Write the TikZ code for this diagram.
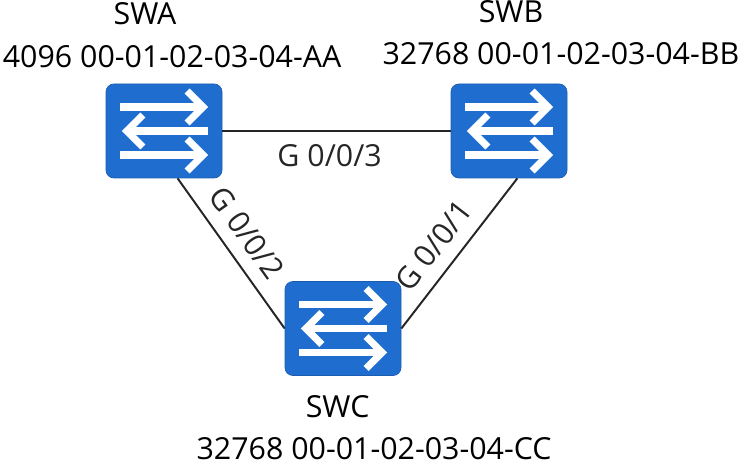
\documentclass[tikz,border=0pt]{standalone}
\usepackage{fontspec}
\setmainfont{Open Sans}
\usepackage{tikz}
\definecolor{switchblue}{HTML}{1F6ECF}
\usetikzlibrary{positioning, calc}
\tikzstyle{link} = [line width=1.4pt, black!85]

\begin{document}
\begin{tikzpicture}
                    \tikzstyle{every node}=[font=\fontsize{21.6}{25}\selectfont] \tikzstyle{switch} =
                    [rectangle, rounded corners=0.2cm, fill=switchblue, draw=switchblue!85!black,
                    line width=0.5pt, minimum width=2.9cm, minimum height=2.35cm, inner sep=0pt]
                    \tikzstyle{port} = [sloped, inner sep=9pt] \tikzstyle{flow} =
                    [white, line width=5pt, line join=miter]

                    \useasboundingbox (0,0) rectangle (18.5,11.625);

                    % switches
                    \node[switch](swa) at (4.1,8.35) {};
                    \node[switch](swb) at (12.725,8.35) {};
                    \node[switch](swc) at (8.575,3.4125) {};

                    \foreach \sw in {swa,swb,swc} {
                        \draw[flow] ($(\sw)+(-1.1,0.6)$) -- ($(\sw)+(0.98,0.6)$);
                        \draw[flow] ($(\sw)+(0.58,1.0)$) -- ($(\sw)+(0.98,0.6)$) -- ($(\sw)+(0.58,0.2)$);
                        \draw[flow] ($(\sw)+(1.1,0)$) -- ($(\sw)+(-0.93,0)$);
                        \draw[flow] ($(\sw)+(-0.53,0.4)$) -- ($(\sw)+(-0.93,0)$) -- ($(\sw)+(-0.53,-0.4)$);
                        \draw[flow] ($(\sw)+(-1.1,-0.6)$) -- ($(\sw)+(0.98,-0.6)$);
                        \draw[flow] ($(\sw)+(0.58,-0.2)$) -- ($(\sw)+(0.98,-0.6)$) -- ($(\sw)+(0.58,-1.0)$);
                    }

                    % names and bridge IDs
                    \node[anchor=base](swaname) at (3.625,11.0) {SWA};
                    \node[anchor=base](swaid) at (4.3,9.925) {4096 00-01-02-03-04-AA};
                    \node[anchor=base](swbname) at (12.775,11.05) {SWB};
                    \node[anchor=base](swbid) at (14.02,10.0) {32768 00-01-02-03-04-BB};
                    \node[anchor=base](swcname) at (8.44,1.2) {SWC};
                    \node[anchor=base](swcid) at (9.35,0.14) {32768 00-01-02-03-04-CC};

                    % links
                    \draw[link] (swa) -- (swb) node[port, pos=0.47, below] {G 0/0/3};
                    \draw[link] (swa.-74) -- (swc.west) node[port, pos=0.46, above] {G 0/0/2};
                    \draw[link] (swc.east) -- (swb.-80) node[port, pos=0.45, above] {G 0/0/1};

            \end{tikzpicture}
\end{document}
